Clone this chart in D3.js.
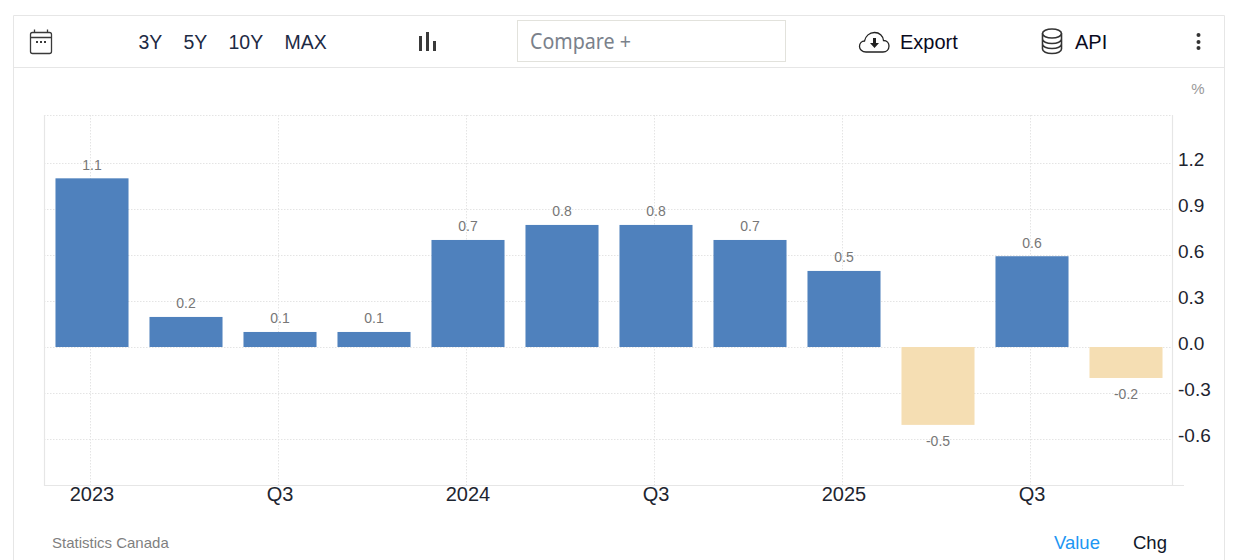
<!DOCTYPE html>
<html><head><meta charset="utf-8">
<script src="https://cdn.jsdelivr.net/npm/d3@7/dist/d3.min.js"></script>
<style>html,body{margin:0;padding:0;background:#fff;overflow:hidden}svg{display:block}text{font-family:"Liberation Sans",Arial,sans-serif}</style>
</head><body><svg id="c" width="1236" height="560"></svg>
<script>
const quarters=["2023Q1","2023Q2","2023Q3","2023Q4","2024Q1","2024Q2","2024Q3","2024Q4","2025Q1","2025Q2","2025Q3","2025Q4"];
const values=[1.1,0.2,0.1,0.1,0.7,0.8,0.8,0.7,0.5,-0.5,0.6,-0.2];
const barHeights=[1.1,0.196,0.098,0.098,0.698,0.796,0.796,0.698,0.496,-0.508,0.592,-0.202];
const yTicks=[1.2,0.9,0.6,0.3,0,-0.3,-0.6];
const xTickQuarters=["2023Q1","2023Q3","2024Q1","2024Q3","2025Q1","2025Q3"];
const xTickLabels=["2023","Q3","2024","Q3","2025","Q3"];
const rangeButtons=["3Y","5Y","10Y","MAX"];

const svg=d3.select("#c");
const border="#e6e6e6";
svg.append("path").attr("d","M13.5 560V15.5H1224.5V560").attr("fill","none").attr("stroke",border);
svg.append("line").attr("x1",14).attr("x2",1224).attr("y1",67.5).attr("y2",67.5).attr("stroke",border);

const x=d3.scaleBand().domain(quarters).range([45,1173]).paddingInner(0.223).paddingOuter(0.1115);
const y=d3.scaleLinear().domain([-0.9,1.513]).range([485,115]);
const gx=d=>Math.round(x(d)+x.bandwidth()/2)-1.5;

const plot=svg.append("g");
const gridStyle=s=>s.attr("stroke","#e4e4e4").attr("stroke-dasharray","1.5 1.5").attr("fill","none");
plot.selectAll("line.h").data([1.513,...yTicks]).join("line").attr("class","h")
 .attr("x1",44).attr("x2",1172).attr("y1",d=>Math.round(y(d))+0.5).attr("y2",d=>Math.round(y(d))+0.5).call(gridStyle);
plot.selectAll("line.v").data(xTickQuarters).join("line").attr("class","v")
 .attr("x1",gx).attr("x2",gx).attr("y1",115).attr("y2",485).call(gridStyle);
plot.append("path").attr("d","M44.5 115V485.5H1184M1172.5 115V485.5").attr("fill","none").attr("stroke","#e6e6e6").attr("stroke-width",1.2);

plot.selectAll("rect.b").data(quarters).join("rect").attr("class","b")
 .attr("x",d=>x(d)).attr("width",x.bandwidth())
 .attr("y",(d,i)=>barHeights[i]>=0?y(barHeights[i]):y(0))
 .attr("height",(d,i)=>Math.abs(y(barHeights[i])-y(0)))
 .attr("fill",(d,i)=>values[i]>=0?"#4f81bd":"#f5deb3");
plot.selectAll("text.v").data(quarters).join("text").attr("class","v")
 .attr("x",d=>x(d)+x.bandwidth()/2)
 .attr("y",(d,i)=>barHeights[i]>=0?y(barHeights[i])-8.5:y(barHeights[i])+21)
 .attr("text-anchor","middle").attr("font-size",14).attr("fill","#777")
 .text((d,i)=>d3.format(".1f")(values[i]).replace("\u2212","-"));

const yAxis=d3.axisRight(y).tickValues(yTicks).tickSize(0).tickPadding(6).tickFormat(d=>d3.format(".1f")(d).replace("\u2212","-"));
const ya=svg.append("g").attr("transform","translate(1172,-4)").call(yAxis);
ya.select(".domain").remove();
ya.selectAll("text").attr("font-size",19).attr("font-family","Liberation Sans").attr("fill","#1e2530");
const xAxis=d3.axisBottom(x).tickValues(xTickQuarters).tickSize(0).tickPadding(0).tickFormat(d=>xTickLabels[xTickQuarters.indexOf(d)]);
const xa=svg.append("g").attr("transform","translate(0,485)").call(xAxis);
xa.select(".domain").remove();
xa.selectAll("text").attr("font-size",20).attr("font-family","Liberation Sans").attr("fill","#1e2530").attr("dy",16).attr("dx",0);

svg.append("text").attr("x",1198).attr("y",94).attr("text-anchor","middle").attr("font-size",15).attr("fill","#999").text("%");
svg.append("text").attr("x",52).attr("y",548).attr("font-size",15).attr("fill","#7f7f7f").text("Statistics Canada");
svg.append("text").attr("x",1054).attr("y",549).attr("font-size",18.500).attr("fill","#2196f3").text("Value");
svg.append("text").attr("x",1133).attr("y",549).attr("font-size",18.500).attr("fill","#10182a").text("Chg");

const bx=[138.5,183.5,228.5,284.500];
svg.selectAll("text.rb").data(rangeButtons).join("text").attr("class","rb")
 .attr("x",(d,i)=>bx[i]).attr("y",48.500).attr("font-size",19.500).attr("fill","#1d2a44").text(d=>d);
svg.append("rect").attr("x",517.500).attr("y",20.500).attr("width",268).attr("height",41).attr("fill","#fff").attr("stroke","#e2e2dc");
svg.append("text").attr("x",530).attr("y",49).attr("font-size",21).attr("fill","#7a818b").attr("style","font-family:'Noto Sans'").attr("textLength",101).attr("lengthAdjust","spacingAndGlyphs").text("Compare +");
svg.append("text").attr("x",900).attr("y",49).attr("font-size",20).attr("fill","#0a0a1e").text("Export");
svg.append("text").attr("x",1075).attr("y",49).attr("font-size",20).attr("fill","#0a0a1e").text("API");

const ic=svg.append("g").attr("fill","none").attr("stroke","#3a3a3a").attr("stroke-width",1.3);
ic.append("rect").attr("x",30.500).attr("y",32.500).attr("width",21).attr("height",21).attr("rx",2);
ic.append("path").attr("d","M30.500 37.500H51.500M34.500 29.500V32.500M47.500 29.500V32.500");
svg.append("path").attr("d","M36 41h2v2h-2zM40 41h2v2h-2zM44 41h2v2h-2z").attr("fill","#3a3a3a");
svg.append("path").attr("d","M419 36h3v15h-3zM426 32h3v19h-3zM433 41h3v10h-3z").attr("fill","#3a3a3a");
const cl=svg.append("g").attr("fill","none").attr("stroke","#222").attr("stroke-width",1.3);
cl.append("path").attr("d","M866 52c-4 0-6.500-3-6.500-5.500c0-3.500 2.500-5.500 5-5.500c1-5 5-8.500 10-8.500c5 0 8.500 3.500 9 8c3.500 0 5.500 2.500 5.500 5.500c0 3.500-2.500 6-6 6z");
svg.append("path").attr("d","M873 38h3v5h3l-4.500 5l-4.500-5h3z").attr("fill","#222");
const db=svg.append("g").attr("fill","none").attr("stroke","#333").attr("stroke-width",1.6);
db.append("ellipse").attr("cx",1052).attr("cy",33.500).attr("rx",9.500).attr("ry",4.500);
db.append("path").attr("d","M1042.500 33.500V49c0 2.500 4 4.500 9.500 4.500s9.500-2 9.500-4.500V33.500M1042.500 39c0 2.500 4 4.500 9.500 4.500s9.500-2 9.500-4.500M1042.500 44c0 2.500 4 4.500 9.500 4.500s9.500-2 9.500-4.500");
svg.selectAll("circle.m").data([35,42,48]).join("circle").attr("class","m").attr("cx",1198.500).attr("cy",d=>d).attr("r",2).attr("fill","#333");
</script></body></html>
